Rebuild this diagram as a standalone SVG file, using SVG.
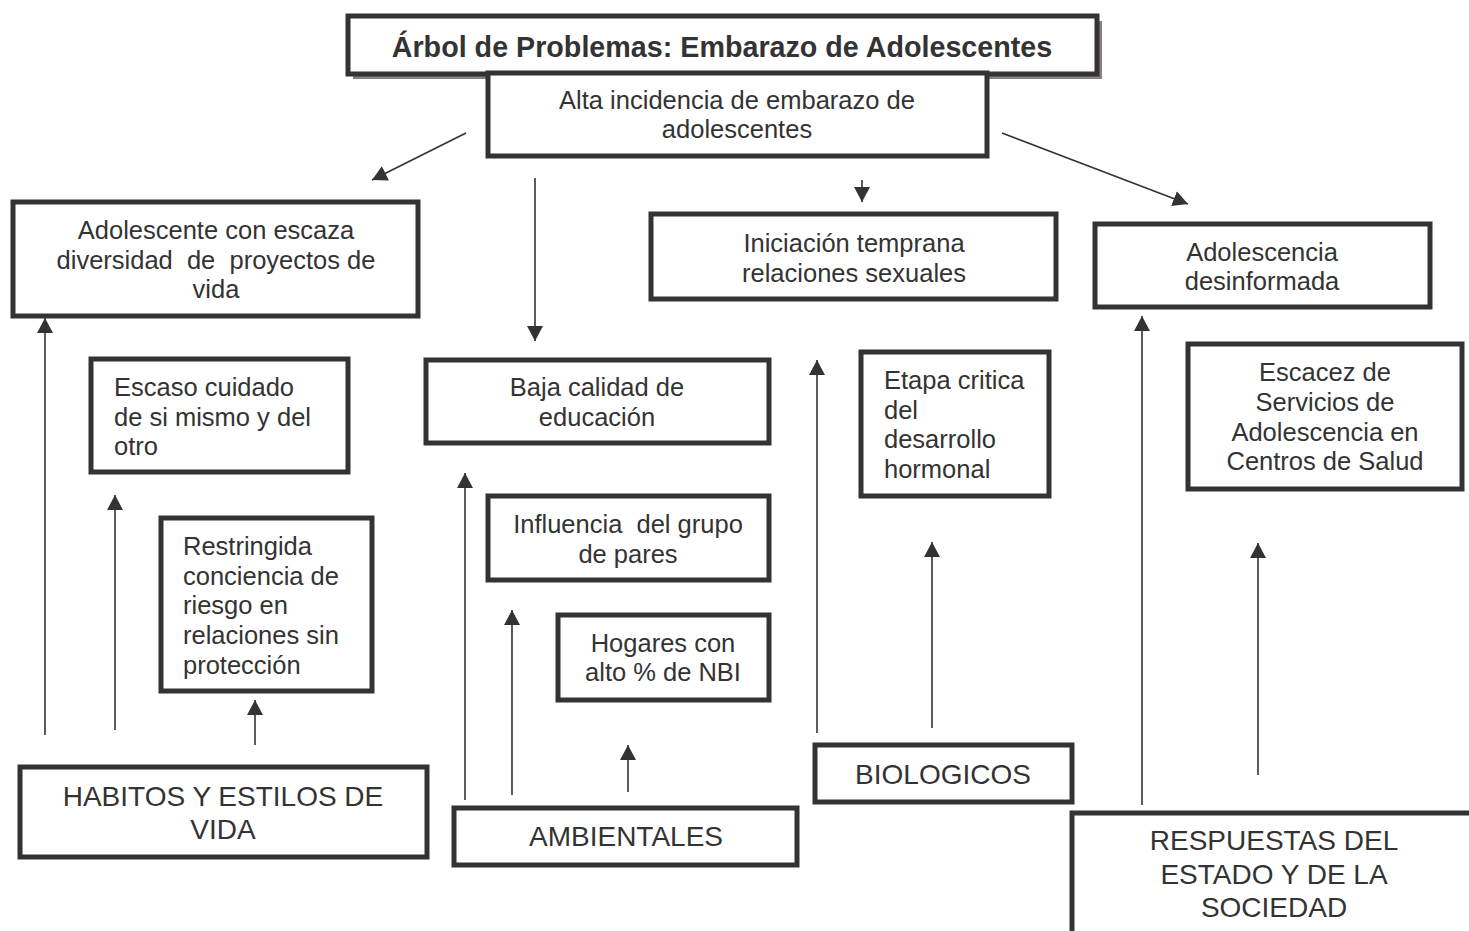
<svg xmlns="http://www.w3.org/2000/svg" width="1469" height="931" viewBox="0 0 1469 931">
<style>
.box{fill:#fff;stroke:#333;stroke-width:5}
.t{font-family:"Liberation Sans",Arial,sans-serif;font-size:25.5px;fill:#333}
.c{text-anchor:middle}
.big{font-size:28px}
.title{font-weight:bold;font-size:28.7px}
.con{stroke:#333;stroke-width:1.6;fill:none;marker-end:url(#ah)}
</style>
<defs>
<marker id="ah" markerUnits="userSpaceOnUse" markerWidth="15" markerHeight="16" viewBox="0 0 15 16" refX="15" refY="8" orient="auto">
<path d="M0,0 L15,8 L0,16 z" fill="#333"/>
</marker>
</defs>
<rect width="1469" height="931" fill="#fff"/>

<g id="title">
<rect x="353" y="21" width="749" height="58" fill="#8b8080"/>
<rect class="box" x="348" y="16" width="749" height="58"/>
<text class="t c title" x="722" y="57">Árbol de Problemas: Embarazo de Adolescentes</text>
</g>

<g id="main">
<rect class="box" x="488" y="73" width="499" height="83"/>
<text class="t c" x="737" y="109">Alta incidencia de embarazo de</text>
<text class="t c" x="737" y="138">adolescentes</text>
</g>

<g id="proyectos">
<rect class="box" x="13" y="202" width="405" height="114"/>
<text class="t c" x="216" y="239">Adolescente con escaza</text>
<text class="t c" x="216" y="269" xml:space="preserve">diversidad  de  proyectos de</text>
<text class="t c" x="216" y="298">vida</text>
</g>

<g id="iniciacion">
<rect class="box" x="651" y="214" width="405" height="85"/>
<text class="t c" x="854" y="252">Iniciación temprana</text>
<text class="t c" x="854" y="282">relaciones sexuales</text>
</g>

<g id="desinformada">
<rect class="box" x="1095" y="224" width="335" height="83"/>
<text class="t c" x="1262" y="261">Adolescencia</text>
<text class="t c" x="1262" y="290">desinformada</text>
</g>

<g id="cuidado">
<rect class="box" x="91" y="359" width="257" height="113"/>
<text class="t" x="114" y="396">Escaso cuidado</text>
<text class="t" x="114" y="426">de si mismo y del</text>
<text class="t" x="114" y="455">otro</text>
</g>

<g id="riesgo">
<rect class="box" x="161" y="518" width="211" height="173"/>
<text class="t" x="183" y="555">Restringida</text>
<text class="t" x="183" y="585">conciencia de</text>
<text class="t" x="183" y="614">riesgo en</text>
<text class="t" x="183" y="644">relaciones sin</text>
<text class="t" x="183" y="674">protección</text>
</g>

<g id="educacion">
<rect class="box" x="426" y="360" width="343" height="83"/>
<text class="t c" x="597" y="396">Baja calidad de</text>
<text class="t c" x="597" y="426">educación</text>
</g>

<g id="pares">
<rect class="box" x="488" y="496" width="281" height="84"/>
<text class="t c" x="628" y="533" xml:space="preserve">Influencia  del grupo</text>
<text class="t c" x="628" y="563">de pares</text>
</g>

<g id="hogares">
<rect class="box" x="558" y="615" width="211" height="85"/>
<text class="t c" x="663" y="652">Hogares con</text>
<text class="t c" x="663" y="681">alto % de NBI</text>
</g>

<g id="hormonal">
<rect class="box" x="861" y="352" width="188" height="144"/>
<text class="t" x="884" y="389">Etapa critica</text>
<text class="t" x="884" y="419">del</text>
<text class="t" x="884" y="448">desarrollo</text>
<text class="t" x="884" y="478">hormonal</text>
</g>

<g id="servicios">
<rect class="box" x="1188" y="344" width="274" height="145"/>
<text class="t c" x="1325" y="381">Escacez de</text>
<text class="t c" x="1325" y="411">Servicios de</text>
<text class="t c" x="1325" y="441">Adolescencia en</text>
<text class="t c" x="1325" y="470">Centros de Salud</text>
</g>

<g id="habitos">
<rect class="box" x="20" y="767" width="407" height="90"/>
<text class="t c big" x="223" y="806">HABITOS Y ESTILOS DE</text>
<text class="t c big" x="223" y="839">VIDA</text>
</g>

<g id="ambientales">
<rect class="box" x="454" y="808" width="343" height="57"/>
<text class="t c big" x="626" y="846">AMBIENTALES</text>
</g>

<g id="biologicos">
<rect class="box" x="815" y="745" width="257" height="57"/>
<text class="t c big" x="943" y="784">BIOLOGICOS</text>
</g>

<g id="respuestas">
<path d="M1072,931 L1072,813 L1469,813" fill="none" stroke="#333" stroke-width="5"/>
<text class="t c big" x="1274" y="850">RESPUESTAS DEL</text>
<text class="t c big" x="1274" y="884">ESTADO Y DE LA</text>
<text class="t c big" x="1274" y="917">SOCIEDAD</text>
</g>

<g id="connectors">
<line class="con" x1="466" y1="133" x2="372" y2="180"/>
<line class="con" x1="535" y1="178" x2="535" y2="341"/>
<line class="con" x1="862" y1="180" x2="862" y2="202"/>
<line class="con" x1="1002" y1="133" x2="1188" y2="204"/>
<line class="con" x1="45" y1="735" x2="45" y2="318"/>
<line class="con" x1="115" y1="730" x2="115" y2="495"/>
<line class="con" x1="255" y1="745" x2="255" y2="700"/>
<line class="con" x1="465" y1="800" x2="465" y2="473"/>
<line class="con" x1="512" y1="795" x2="512" y2="610"/>
<line class="con" x1="628" y1="792" x2="628" y2="745"/>
<line class="con" x1="817" y1="733" x2="817" y2="360"/>
<line class="con" x1="932" y1="728" x2="932" y2="542"/>
<line class="con" x1="1142" y1="805" x2="1142" y2="316"/>
<line class="con" x1="1258" y1="775" x2="1258" y2="543"/>
</g>
</svg>
